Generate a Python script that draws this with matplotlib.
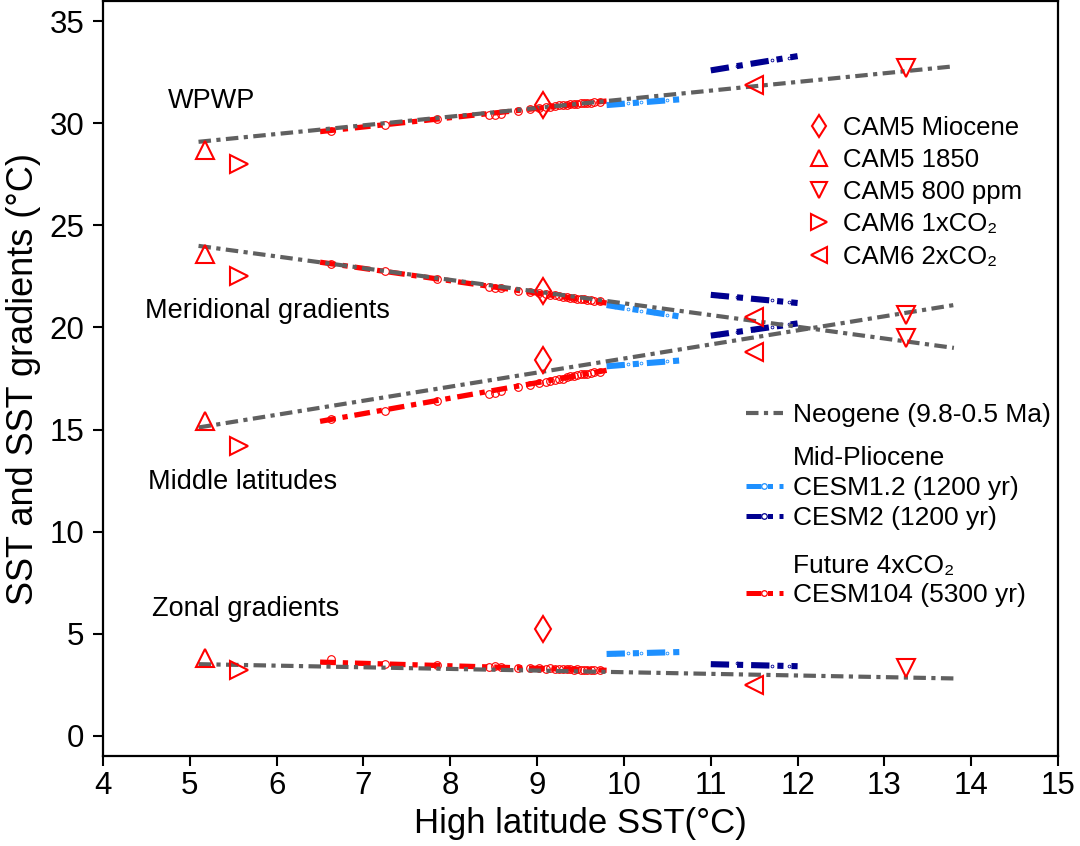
import matplotlib
matplotlib.use("Agg")
import matplotlib.pyplot as plt
from matplotlib.lines import Line2D

plt.rcParams['font.family'] = ['Liberation Sans', 'DejaVu Sans']

# ---- data ----
regions = ["WPWP", "Meridional", "Middle", "Zonal"]

# Neogene (9.8-0.5 Ma) fits
neo_x = [5.1, 13.8]
neo_y = {"WPWP": [29.1, 32.8], "Meridional": [24.0, 19.0],
         "Middle": [15.1, 21.1], "Zonal": [3.5, 2.8]}

# CESM104 future 4xCO2 fits and samples
c104_x = [6.5, 9.8]
c104_y = {"WPWP": [29.6, 31.1], "Meridional": [23.2, 21.2],
          "Middle": [15.4, 17.9], "Zonal": [3.6, 3.2]}
c104_px = [6.62, 7.25, 7.85, 8.45, 8.52, 8.58, 8.78, 8.92, 9.02, 9.1, 9.15, 9.2,
           9.25, 9.3, 9.34, 9.38, 9.42, 9.46, 9.5, 9.54, 9.58, 9.62, 9.66, 9.72]
c104_py = {
    "WPWP": [29.65, 29.94, 30.21, 30.42, 30.4, 30.45, 30.62, 30.7, 30.75, 30.8, 30.83, 30.85,
             30.88, 30.9, 30.9, 30.93, 30.95, 30.96, 30.98, 30.99, 31.0, 31.02, 31.03, 31.06],
    "Meridional": [23.1, 22.75, 22.4, 22.0, 21.95, 21.95, 21.8, 21.75, 21.7, 21.65, 21.6, 21.6,
                   21.55, 21.5, 21.5, 21.45, 21.45, 21.4, 21.4, 21.38, 21.35, 21.33, 21.3, 21.28],
    "Middle": [15.5, 15.9, 16.4, 16.75, 16.8, 16.9, 17.1, 17.2, 17.3, 17.35, 17.4, 17.45,
               17.5, 17.5, 17.55, 17.6, 17.6, 17.65, 17.7, 17.7, 17.72, 17.75, 17.8, 17.8],
    "Zonal": [3.75, 3.5, 3.45, 3.38, 3.4, 3.36, 3.33, 3.32, 3.3, 3.28, 3.3, 3.26,
              3.27, 3.25, 3.25, 3.24, 3.23, 3.24, 3.22, 3.22, 3.21, 3.2, 3.2, 3.19],
}

# Mid-Pliocene CESM1.2
c12_x = [9.8, 10.7]
c12_y = {"WPWP": [30.9, 31.2], "Meridional": [21.1, 20.5],
         "Middle": [18.1, 18.4], "Zonal": [4.0, 4.1]}
c12_px = [9.9, 10.05, 10.2, 10.35, 10.5]
c12_py = {"WPWP": [30.95, 31.0, 31.05, 31.1, 31.15],
          "Meridional": [21.0, 20.9, 20.8, 20.7, 20.6],
          "Middle": [18.15, 18.2, 18.25, 18.3, 18.35],
          "Zonal": [4.0, 4.05, 4.05, 4.1, 4.05]}

# Mid-Pliocene CESM2
c2_x = [11.0, 12.0]
c2_y = {"WPWP": [32.6, 33.3], "Meridional": [21.6, 21.2],
        "Middle": [19.6, 20.2], "Zonal": [3.5, 3.4]}
c2_px = [11.1, 11.3, 11.5, 11.7, 11.9]
c2_py = {"WPWP": [32.7, 32.8, 32.95, 33.1, 33.2],
         "Meridional": [21.55, 21.5, 21.4, 21.35, 21.25],
         "Middle": [19.65, 19.8, 19.9, 20.0, 20.15],
         "Zonal": [3.5, 3.55, 3.45, 3.4, 3.4]}

# single model runs: (label, marker, size, high-lat SST, values per region)
runs = [
    ("CAM5 Miocene", "d", 13, 9.07, [30.9, 21.8, 18.4, 5.2]),
    ("CAM5 1850", "^", 13, 5.17, [28.7, 23.6, 15.4, 3.8]),
    ("CAM5 800 ppm", "v", 13, 13.25, [32.7, 19.5, 20.6, 3.3]),
    ("CAM6 1xCO\u2082", ">", 13, 5.57, [28.0, 22.5, 14.2, 3.2]),
    ("CAM6 2xCO\u2082", "<", 13, 11.5, [31.9, 20.5, 18.8, 2.5]),
]

labels = [("WPWP", 4.75, 31.1), ("Meridional gradients", 4.48, 20.8),
          ("Middle latitudes", 4.52, 12.45), ("Zonal gradients", 4.56, 6.2)]

# ---- plot ----
gray = "#606060"
red = "#ff0000"
lblue = "#1e90ff"
dblue = "#000090"
dd = (0, (3, 1.3, 1, 1.3))

fig = plt.figure(figsize=(10.8, 8.46), dpi=100)
ax = fig.add_axes([0.0954, 0.1064, 0.8843, 0.8924])

for r in regions:
    ax.plot(c104_px, c104_py[r], "o", ms=5.5, mfc="none", mec=red, mew=0.8, zorder=3)
    ax.plot(c104_x, c104_y[r], color=red, lw=3.8, ls=dd, zorder=3)
    ax.plot(c12_px, c12_py[r], "o", ms=2, mfc="none", mec=lblue, mew=0.6, zorder=3)
    ax.plot(c12_x, c12_y[r], color=lblue, lw=4.4, ls=dd, zorder=3)
    ax.plot(c2_px, c2_py[r], "o", ms=2, mfc="none", mec=dblue, mew=0.6, zorder=3)
    ax.plot(c2_x, c2_y[r], color=dblue, lw=4.4, ls=dd, zorder=3)
    ax.plot(neo_x, neo_y[r], color=gray, lw=3.0, ls=dd, zorder=4)

run_handles = []
for name, mk, ms, x, vals in runs:
    h, = ax.plot([x] * 4, vals, mk, ms=ms, mfc="none", mec=red, mew=1.5, ls="none",
                 zorder=5, label=name)
    run_handles.append(h)

for txt, x, y in labels:
    ax.text(x, y, txt, fontsize=19.5, va="center", ha="left")

ax.set_xlim(4, 15)
ax.set_ylim(-1, 36)
ax.set_xticks(range(4, 16))
ax.set_yticks(range(0, 36, 5))
ax.tick_params(labelsize=22.5, direction="out", length=7.5, width=1.5)
ax.tick_params(axis="y", pad=6)
for s in ax.spines.values():
    s.set_linewidth(1.6)
ax.set_xlabel("High latitude SST(\u00b0C)", fontsize=25, labelpad=4)
ax.set_ylabel("SST and SST gradients (\u00b0C)", fontsize=26, labelpad=6)

# legends
leg1 = ax.legend(handles=run_handles, loc="upper left", bbox_to_anchor=(0.738, 0.848),
                 frameon=False, fontsize=18.5, numpoints=1, handlelength=0.9,
                 handletextpad=0.45, labelspacing=0.32, borderpad=0, borderaxespad=0,
                 markerscale=0.9)
ax.add_artist(leg1)

def lh(c):
    return Line2D([], [], color=c, lw=3.6, ls=dd, marker="o", ms=4, mfc="none",
                  mec=c, mew=0.9)

blank = Line2D([], [], color="none")
kw = dict(loc="upper left", frameon=False, fontsize=19, numpoints=1, handlelength=1.4,
          handletextpad=0.4, labelspacing=0.22, borderpad=0, borderaxespad=0)

leg2 = ax.legend([Line2D([], [], color=gray, lw=3.0, ls=dd)], ["Neogene (9.8-0.5 Ma)"],
                 bbox_to_anchor=(0.673, 0.467), **kw)
ax.add_artist(leg2)
leg3 = ax.legend([blank, lh(lblue), lh(dblue)],
                 ["Mid-Pliocene", "CESM1.2 (1200 yr)", "CESM2 (1200 yr)"],
                 bbox_to_anchor=(0.673, 0.410), **kw)
ax.add_artist(leg3)
leg4 = ax.legend([blank, lh(red)], ["Future 4xCO\u2082", "CESM104 (5300 yr)"],
                 bbox_to_anchor=(0.673, 0.268), **kw)

fig.savefig("out.png", dpi=100)
